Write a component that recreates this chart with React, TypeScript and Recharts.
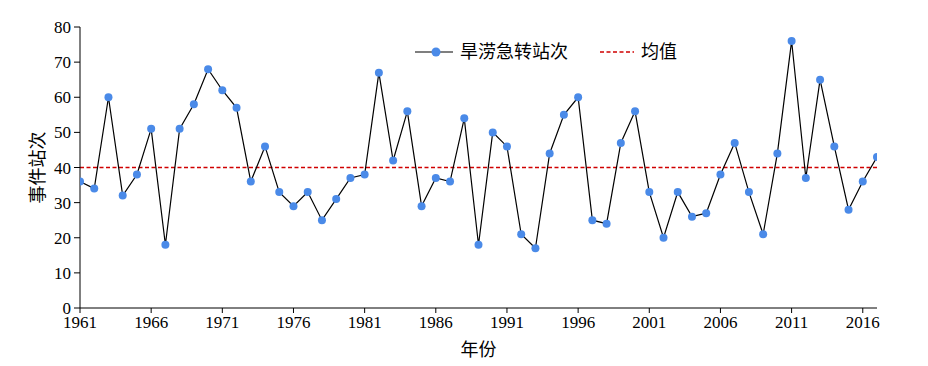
import React from 'react';
import { LineChart, Line, XAxis, YAxis } from 'recharts';

const years: number[] = [
  1961, 1962, 1963, 1964, 1965, 1966, 1967, 1968, 1969, 1970,
  1971, 1972, 1973, 1974, 1975, 1976, 1977, 1978, 1979, 1980,
  1981, 1982, 1983, 1984, 1985, 1986, 1987, 1988, 1989, 1990,
  1991, 1992, 1993, 1994, 1995, 1996, 1997, 1998, 1999, 2000,
  2001, 2002, 2003, 2004, 2005, 2006, 2007, 2008, 2009, 2010,
  2011, 2012, 2013, 2014, 2015, 2016, 2017,
];
const stationCounts: number[] = [
  36, 34, 60, 32, 38, 51, 18, 51, 58, 68,
  62, 57, 36, 46, 33, 29, 33, 25, 31, 37,
  38, 67, 42, 56, 29, 37, 36, 54, 18, 50,
  46, 21, 17, 44, 55, 60, 25, 24, 47, 56,
  33, 20, 33, 26, 27, 38, 47, 33, 21, 44,
  76, 37, 65, 46, 28, 36, 43,
];
const meanValue = 40;
const xTicks: number[] = [1961, 1966, 1971, 1976, 1981, 1986, 1991, 1996, 2001, 2006, 2011, 2016];
const yTicks: number[] = [0, 10, 20, 30, 40, 50, 60, 70, 80];
const seriesName = '旱涝急转站次';
const meanName = '均值';
const xLabel = '年份';
const yLabel = '事件站次';

const data = years.map((y, i) => ({ year: y, count: stationCounts[i], mean: meanValue }));

const FONT = "'Liberation Serif', 'Times New Roman', 'DejaVu Serif', 'Noto Sans CJK SC', serif";
const DOT = '#4a8ae8';
const MEAN = '#d00000';

const LegendBox = () => (
  <div style={{ position: 'absolute', left: 415, top: 40, height: 24, lineHeight: '24px', display: 'flex', alignItems: 'center', fontFamily: FONT, fontSize: 18, color: '#000', whiteSpace: 'nowrap' }}>
    <svg width={38} height={14} style={{ marginRight: 7 }}>
      <line x1={0} y1={7} x2={38} y2={7} stroke="#000" strokeWidth={1.2} />
      <circle cx={21} cy={7} r={4.5} fill={DOT} />
    </svg>
    <span>{seriesName}</span>
    <svg width={34} height={14} style={{ marginLeft: 32, marginRight: 7 }}>
      <line x1={0} y1={7} x2={34} y2={7} stroke={MEAN} strokeWidth={1.4} strokeDasharray="4 2.5" />
    </svg>
    <span>{meanName}</span>
  </div>
);

export default function App() {
  return (
    <div style={{ position: 'absolute', left: 0, top: 0, width: 928, height: 366, fontFamily: FONT }}>
      <LineChart width={928} height={366} data={data} margin={{ top: 27, right: 51, left: 30, bottom: 8 }} style={{ fontFamily: FONT }}>
        <XAxis
          dataKey="year"
          type="number"
          domain={[1961, 2017]}
          ticks={xTicks}
          interval={0}
          allowDataOverflow
          stroke="#000"
          tickSize={5}
          tickMargin={3}
          height={50}
          tick={{ fill: '#000', fontSize: 17, fontFamily: FONT }}
          label={{ value: xLabel, position: 'insideBottom', offset: 2, fill: '#000', fontSize: 18, fontFamily: FONT }}
        />
        <XAxis xAxisId="top" orientation="top" dataKey="year" type="number" domain={[1961, 2017]} tick={false} tickLine={false} height={0} stroke="#000" />
        <YAxis
          domain={[0, 80]}
          ticks={yTicks}
          interval={0}
          stroke="#000"
          tickSize={6}
          tickMargin={3}
          width={50}
          tick={{ fill: '#000', fontSize: 17, fontFamily: FONT }}
          label={{ value: yLabel, angle: -90, position: 'insideLeft', offset: 8, fill: '#000', fontSize: 18, fontFamily: FONT, style: { textAnchor: 'middle' } }}
        />
        <YAxis yAxisId="right" orientation="right" domain={[0, 80]} tick={false} tickLine={false} width={0} stroke="#000" />
        <Line
          dataKey="mean"
          name={meanName}
          stroke={MEAN}
          strokeWidth={1.4}
          strokeDasharray="4 2.5"
          dot={false}
          activeDot={false}
          isAnimationActive={false}
        />
        <Line
          dataKey="count"
          name={seriesName}
          stroke="#000"
          strokeWidth={1.2}
          dot={{ r: 4, fill: DOT, stroke: 'none' }}
          activeDot={false}
          isAnimationActive={false}
        />
      </LineChart>
      <LegendBox />
    </div>
  );
}
